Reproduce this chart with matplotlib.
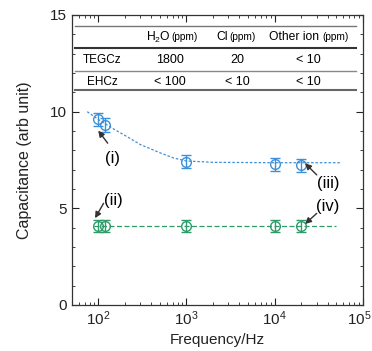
import matplotlib
matplotlib.use("Agg")
import matplotlib.pyplot as plt
import matplotlib.transforms as mtransforms
from matplotlib.ticker import MultipleLocator, LogLocator, NullFormatter

plt.rcParams['font.family'] = ['Liberation Sans', 'DejaVu Sans']
plt.rcParams['mathtext.fontset'] = 'custom'
plt.rcParams['mathtext.rm'] = 'Liberation Sans'

# data
freq = [100, 120, 1000, 10000, 20000]
cap_teg = [9.6, 9.3, 7.42, 7.28, 7.23]
err_teg = [0.35, 0.35, 0.33, 0.33, 0.33]
cap_ehc = [4.1, 4.1, 4.1, 4.1, 4.1]
err_ehc = [0.3, 0.3, 0.3, 0.3, 0.3]

fit_teg_x = [75, 100, 150, 214, 300, 510, 720, 1000, 2000, 10000, 57000]
fit_teg_y = [10.0, 9.6, 9.1, 8.7, 8.3, 7.86, 7.6, 7.45, 7.38, 7.36, 7.36]
fit_ehc_x = [90, 50000]
fit_ehc_y = [4.1, 4.1]

table_header = ["H$_2$O", "Cl", "Other ion"]
table_unit = "(ppm)"
table_rows = ["TEGCz", "EHCz"]
table_vals = [["1800", "20", "< 10"], ["< 100", "< 10", "< 10"]]

blue = '#3d8fd8'
green = '#2e9c6a'

fig = plt.figure(figsize=(3.72, 3.51), dpi=100)
ax = fig.add_axes([71.7/372, 1 - 305/351, 291/372, 290/351])

ax.plot(fit_teg_x, fit_teg_y, ls=(0, (2, 1.5)), color=blue, lw=0.9)
ax.plot(fit_ehc_x, fit_ehc_y, ls=(0, (4, 2)), color=green, lw=0.9)

ax.errorbar(freq, cap_teg, yerr=err_teg, fmt='o', mfc='none', mec=blue, ecolor=blue,
            ms=7, mew=1.0, elinewidth=1.0, capsize=3.5, capthick=1.0)
ax.errorbar(freq, cap_ehc, yerr=err_ehc, fmt='o', mfc='none', mec=green, ecolor=green,
            ms=7, mew=1.0, elinewidth=1.0, capsize=3.5, capthick=1.0)

ax.set_xscale('log')
ax.set_xlim(50, 1e5)
ax.set_ylim(0, 15)
ax.yaxis.set_major_locator(MultipleLocator(5))
ax.yaxis.set_minor_locator(MultipleLocator(1))
ax.xaxis.set_major_locator(LogLocator(base=10, numticks=10))
ax.xaxis.set_minor_locator(LogLocator(base=10, subs=range(2, 10), numticks=10))
ax.xaxis.set_minor_formatter(NullFormatter())
ax.tick_params(which='both', direction='in', top=True, right=True, labelsize=11, colors='#222222')
ax.tick_params(which='major', length=5, width=0.8)
ax.tick_params(which='minor', length=2.5, width=0.6)
for s in ax.spines.values():
    s.set_linewidth(0.9)
    s.set_color('#333333')
ax.set_xlabel('Frequency/Hz', fontsize=11, color='#222222', labelpad=3)
ax.set_ylabel('Capacitance (arb unit)', fontsize=11.5, color='#222222', labelpad=13)

# nudge the last x tick label so it stays inside the figure
fig.canvas.draw()
for t in ax.get_xticklabels():
    if abs(t.get_position()[0] - 1e5) < 1:
        t.set_transform(t.get_transform() + mtransforms.ScaledTranslation(-3/100, 0, fig.dpi_scale_trans))

# table inside axes (axes-fraction coords from pixel positions)
def ypx(p):
    return 1 - (p - 15) / 290
def xpx(p):
    return (p - 71.7) / 291

lx0, lx1 = xpx(75), xpx(356)
for py, lw, c in [(25.7, 1.0, '#777777'), (48.3, 1.5, '#333333'), (70.7, 1.0, '#888888'), (90, 1.5, '#666666')]:
    ax.plot([lx0, lx1], [ypx(py), ypx(py)], transform=ax.transAxes, color=c, lw=lw, clip_on=False)

head_y = ypx(37)
head_x = [146, 216.5, 269]
unit_x = [171.5, 229, 322]
for hx, ux, h in zip(head_x, unit_x, table_header):
    ax.text(xpx(hx), head_y, h, transform=ax.transAxes, ha='left', va='center', fontsize=8.7)
    ax.text(xpx(ux), head_y, table_unit, transform=ax.transAxes, ha='left', va='center', fontsize=7.3)

col_x = [170, 237, 308]
row_y = [60, 81.7]
row_x = [102.5, 102]
for r, name in enumerate(table_rows):
    ax.text(xpx(row_x[r]), ypx(row_y[r]), name, transform=ax.transAxes, ha='center', va='center', fontsize=8.5)
    for c, v in enumerate(table_vals[r]):
        ax.text(xpx(col_x[c]), ypx(row_y[r]), v, transform=ax.transAxes, ha='center', va='center', fontsize=9)

# annotations
arrow = dict(arrowstyle='-|>', color='#333333', lw=1.0, mutation_scale=9, shrinkA=0, shrinkB=0)
ax.annotate('', xy=(100, 9.02), xytext=(128, 8.37), arrowprops=arrow)
ax.text(147, 7.6, '(i)', fontsize=12, ha='center', va='center')
ax.annotate('', xy=(92, 4.49), xytext=(115, 5.26), arrowprops=arrow)
ax.text(150, 5.43, '(ii)', fontsize=12, ha='center', va='center')
ax.annotate('', xy=(22200, 7.33), xytext=(30100, 6.73), arrowprops=arrow)
ax.text(40400, 6.31, '(iii)', fontsize=12, ha='center', va='center')
ax.annotate('', xy=(22200, 4.19), xytext=(30100, 4.74), arrowprops=arrow)
ax.text(40400, 5.07, '(iv)', fontsize=12, ha='center', va='center')

fig.savefig('out.png', dpi=100)
